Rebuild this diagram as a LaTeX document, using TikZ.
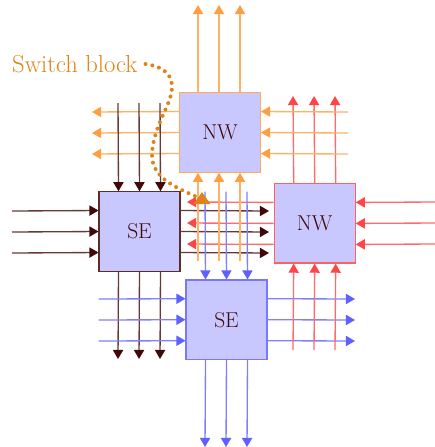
\documentclass[tikz,border=0pt]{standalone}
\usepackage{xcolor}
\usepackage{fontspec}
\usetikzlibrary{arrows.meta,positioning}
\definecolor{apricot}{HTML}{FF9E40}
\definecolor{tomato}{HTML}{FF4545}
\definecolor{maroon}{HTML}{400808}
\definecolor{iris}{HTML}{6060FF}
\definecolor{lilac}{HTML}{C8C8FF}
\definecolor{amber}{HTML}{DD8418}
\tikzset{
  blockbox/.style={
    rectangle, draw=#1!85!white, fill=lilac, line width=1pt,
    minimum width=81pt, minimum height=79.5pt,
    font=\fontsize{21.5}{24}\selectfont, text=maroon,
    inner sep=0pt
  },
  blockbox/.default=maroon,
  wirearrow/.style={
    -{Triangle[length=6.8pt, width=7.6pt, color=#1]}, line width=1pt, draw=#1!80!white
  },
  wirearrow/.default=maroon,
  calloutdots/.style={
    amber, line width=3pt, line cap=round, dash pattern=on 0pt off 5.2pt,
    -{Triangle[length=9pt, width=12pt]}
  },
}
\begin{document}
\begin{tikzpicture}[x=1pt, y=-1pt, scale=0.75, transform shape]
  \useasboundingbox (0,0) rectangle (435,447);
  \node[blockbox=apricot] at (220,132.5) (nwtop) {NW};
  \node[blockbox=tomato] at (314.7,223.4) (nwright) {NW};
  \node[blockbox=maroon] at (139.5,231.5) (seleft) {SE};
  \node[blockbox=iris] at (226.5,319.7) (sebottom) {SE};
  \coordinate (topend) at (219,5);
  \coordinate (leftend) at (92,133);
  \coordinate (darkstart) at (139,103);
  \coordinate (orangestart) at (348,133);
  \coordinate (redtop) at (314,96);
  \coordinate (orangelow) at (219,261);
  \coordinate (bluehigh) at (226,191.7);
  \coordinate (redleft) at (187,223);
  \coordinate (darkright) at (269,232);
  \coordinate (redstart) at (435,223);
  \coordinate (darkstartleft) at (12,232);
  \coordinate (darkbottom) at (139,359);
  \coordinate (bluestart) at (98.7,320);
  \coordinate (blueright) at (355,320);
  \coordinate (redlow) at (314,350);
  \coordinate (bluebottom) at (226,447);
  % outer bundles
  \draw[wirearrow=apricot] ([xshift=-21pt]topend |- nwtop.north) -- ([xshift=-21pt]topend);
  \draw[wirearrow=apricot] (topend |- nwtop.north) -- (topend);
  \draw[wirearrow=apricot] ([xshift=21pt]topend |- nwtop.north) -- ([xshift=21pt]topend);
  \draw[wirearrow=apricot] ([yshift=21pt]nwtop.west) -- ([yshift=21pt]leftend);
  \draw[wirearrow=apricot] (nwtop.west) -- (leftend);
  \draw[wirearrow=apricot] ([yshift=-21pt]nwtop.west) -- ([yshift=-21pt]leftend);
  \draw[wirearrow=tomato] ([yshift=21pt]redstart) -- ([yshift=21pt]nwright.east);
  \draw[wirearrow=tomato] (redstart) -- (nwright.east);
  \draw[wirearrow=tomato] ([yshift=-21pt]redstart) -- ([yshift=-21pt]nwright.east);
  \draw[wirearrow=maroon] ([yshift=21pt]darkstartleft) -- ([yshift=21pt]seleft.west);
  \draw[wirearrow=maroon] (darkstartleft) -- (seleft.west);
  \draw[wirearrow=maroon] ([yshift=-21pt]darkstartleft) -- ([yshift=-21pt]seleft.west);
  \draw[wirearrow=maroon] ([xshift=-21pt]seleft.south) -- ([xshift=-21pt]darkbottom);
  \draw[wirearrow=maroon] (seleft.south) -- (darkbottom);
  \draw[wirearrow=maroon] ([xshift=21pt]seleft.south) -- ([xshift=21pt]darkbottom);
  \draw[wirearrow=iris] ([xshift=-21pt]sebottom.south) -- ([xshift=-21pt]bluebottom);
  \draw[wirearrow=iris] (sebottom.south) -- (bluebottom);
  \draw[wirearrow=iris] ([xshift=21pt]sebottom.south) -- ([xshift=21pt]bluebottom);
  \draw[wirearrow=iris] ([yshift=21pt]sebottom.east) -- ([yshift=21pt]blueright);
  \draw[wirearrow=iris] (sebottom.east) -- (blueright);
  \draw[wirearrow=iris] ([yshift=-21pt]sebottom.east) -- ([yshift=-21pt]blueright);
  \draw[wirearrow=tomato] ([xshift=-21pt]nwright.north) -- ([xshift=-21pt]redtop);
  \draw[wirearrow=tomato] (nwright.north) -- (redtop);
  \draw[wirearrow=tomato] ([xshift=21pt]nwright.north) -- ([xshift=21pt]redtop);
  \draw[wirearrow=tomato] ([xshift=-21pt]redlow) -- ([xshift=-21pt]nwright.south);
  \draw[wirearrow=tomato] (redlow) -- (nwright.south);
  \draw[wirearrow=tomato] ([xshift=21pt]redlow) -- ([xshift=21pt]nwright.south);
  \draw[wirearrow=apricot] ([yshift=21pt]orangestart) -- ([yshift=21pt]nwtop.east);
  \draw[wirearrow=apricot] (orangestart) -- (nwtop.east);
  \draw[wirearrow=apricot] ([yshift=-21pt]orangestart) -- ([yshift=-21pt]nwtop.east);
  \draw[wirearrow=maroon] ([xshift=-21pt]darkstart) -- ([xshift=-21pt]seleft.north);
  \draw[wirearrow=maroon] (darkstart) -- (seleft.north);
  \draw[wirearrow=maroon] ([xshift=21pt]darkstart) -- ([xshift=21pt]seleft.north);
  \draw[wirearrow=iris] ([yshift=21pt]bluestart) -- ([yshift=21pt]sebottom.west);
  \draw[wirearrow=iris] (bluestart) -- (sebottom.west);
  \draw[wirearrow=iris] ([yshift=-21pt]bluestart) -- ([yshift=-21pt]sebottom.west);
  % switch block in the middle
  \draw[wirearrow=tomato] ([yshift=21pt]nwright.west) -- ([yshift=21pt]redleft);
  \draw[wirearrow=tomato] (nwright.west) -- (redleft);
  \draw[wirearrow=tomato] ([yshift=-21pt]nwright.west) -- ([yshift=-21pt]redleft);
  \draw[wirearrow=maroon] ([yshift=21pt]seleft.east) -- ([yshift=21pt]darkright);
  \draw[wirearrow=maroon] (seleft.east) -- (darkright);
  \draw[wirearrow=maroon] ([yshift=-21pt]seleft.east) -- ([yshift=-21pt]darkright);
  \draw[wirearrow=iris] ([xshift=-21pt]bluehigh) -- ([xshift=-21pt]sebottom.north);
  \draw[wirearrow=iris] (bluehigh) -- (sebottom.north);
  \draw[wirearrow=iris] ([xshift=21pt]bluehigh) -- ([xshift=21pt]sebottom.north);
  \draw[wirearrow=apricot] ([xshift=-21pt]orangelow) -- ([xshift=-21pt]nwtop.south -| orangelow);
  \draw[wirearrow=apricot] (orangelow) -- (nwtop.south -| orangelow);
  \draw[wirearrow=apricot] ([xshift=21pt]orangelow) -- ([xshift=21pt]nwtop.south -| orangelow);
  % callout
  \node[text=amber, font=\fontsize{24.6}{28}\selectfont, anchor=west, inner sep=0pt] at (12,64) (switchlabel) {Switch block};
  \coordinate (switchend) at (202,192);
  \draw[calloutdots] ([xshift=8pt]switchlabel.east) .. controls (160,66) and (172,72) .. (172,87)
    .. controls (172,105) and (153,125) .. (152,155)
    .. controls (152,178) and (175,187) .. (197,197)
    .. controls (200,199) and (202,198) .. (switchend);
\end{tikzpicture}
\end{document}
